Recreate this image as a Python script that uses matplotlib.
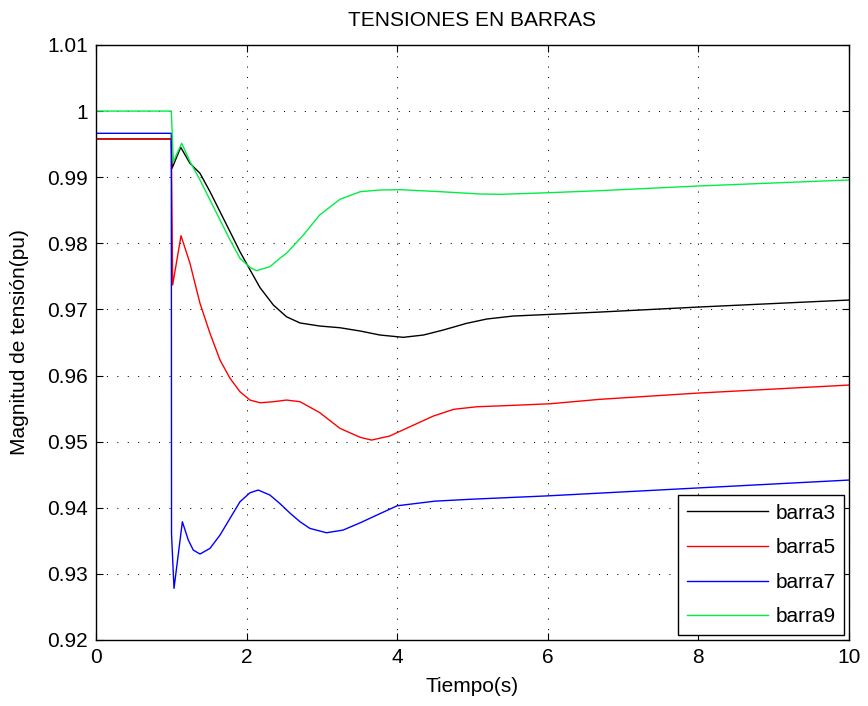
import matplotlib
matplotlib.use("Agg")
import matplotlib.pyplot as plt

plt.rcParams['font.family'] = ['Liberation Sans', 'DejaVu Sans']

# tiempo (s) y tension (pu)
t_b3 = [0, 1.0, 1.01, 1.125, 1.248, 1.381, 1.514, 1.647, 1.78, 1.912, 2.045, 2.178,
        2.355, 2.53, 2.71, 2.97, 3.24, 3.51, 3.77, 4.08, 4.35, 4.61, 4.92, 5.19,
        5.54, 6.03, 6.69, 8, 10]
v_b3 = [0.99578, 0.99578, 0.99135, 0.99452, 0.99210, 0.99059, 0.98781, 0.98478,
        0.98176, 0.97873, 0.97600, 0.97330, 0.97067, 0.96889, 0.96795, 0.96749,
        0.96723, 0.96673, 0.96613, 0.96578, 0.96613, 0.96688, 0.96789, 0.96855,
        0.96900, 0.96925, 0.96960, 0.97036, 0.97142]

t_b5 = [0, 1.0, 1.018, 1.129, 1.248, 1.381, 1.514, 1.647, 1.78, 1.912, 2.045, 2.178,
        2.355, 2.53, 2.71, 2.97, 3.24, 3.51, 3.66, 3.90, 4.17, 4.48, 4.75, 5.06,
        5.54, 6.03, 6.69, 8, 10]
v_b5 = [0.99578, 0.99578, 0.97369, 0.98115, 0.97697, 0.97092, 0.96638, 0.96234,
        0.95958, 0.95755, 0.95629, 0.95588, 0.95604, 0.95629, 0.95604, 0.95440,
        0.95201, 0.95065, 0.95024, 0.95085, 0.95226, 0.95387, 0.95489, 0.95528,
        0.95549, 0.95573, 0.95640, 0.95735, 0.95856]

t_b7 = [0, 1.0, 1.003, 1.036, 1.147, 1.226, 1.292, 1.381, 1.514, 1.647, 1.78, 1.912,
        2.045, 2.155, 2.31, 2.44, 2.58, 2.71, 2.84, 3.06, 3.28, 3.51, 3.75, 4, 4.5,
        5, 6, 8, 10]
v_b7 = [0.99664, 0.99664, 0.93600, 0.92781, 0.93788, 0.93511, 0.93360, 0.93300,
        0.93386, 0.93587, 0.93840, 0.94091, 0.94227, 0.94268, 0.94192, 0.94066,
        0.93915, 0.93788, 0.93688, 0.93622, 0.93662, 0.93773, 0.9390, 0.9403,
        0.9410, 0.9413, 0.9418, 0.9430, 0.94419]

t_b9 = [0, 1.0, 1.027, 1.138, 1.248, 1.381, 1.514, 1.647, 1.78, 1.912, 2.045, 2.13,
        2.31, 2.44, 2.53, 2.75, 2.97, 3.24, 3.51, 3.77, 4.04, 4.57, 5.10, 5.37,
        6.03, 6.69, 8, 10]
v_b9 = [1.0, 1.0, 0.99235, 0.99513, 0.99235, 0.98958, 0.98655, 0.98353, 0.98050,
        0.97773, 0.97636, 0.97586, 0.97646, 0.97773, 0.97849, 0.98120, 0.98428,
        0.98666, 0.98781, 0.98806, 0.98811, 0.98781, 0.98746, 0.98741, 0.98766,
        0.98796, 0.98867, 0.98958]

fig = plt.figure(figsize=(8.68, 7.06), dpi=100)
ax = fig.add_axes([0.1106, 0.0935, 0.8675, 0.8428])

ax.plot(t_b3, v_b3, color='k', lw=1, label='barra3')
ax.plot(t_b5, v_b5, color='#ff0000', lw=1, label='barra5')
ax.plot(t_b7, v_b7, color='#0000ff', lw=1, label='barra7')
ax.plot(t_b9, v_b9, color='#00ee44', lw=1, label='barra9')

ax.set_xlim(0, 10)
ax.set_ylim(0.92, 1.01)
ax.set_xticks([0, 2, 4, 6, 8, 10])
ax.set_yticks([0.92, 0.93, 0.94, 0.95, 0.96, 0.97, 0.98, 0.99, 1.0, 1.01])
ax.set_yticklabels(['0.92', '0.93', '0.94', '0.95', '0.96', '0.97', '0.98', '0.99', '1', '1.01'])
ax.tick_params(direction='in', labelsize=15, top=True, right=True, length=5, pad=6)
ax.grid(True, color='k', linestyle=(0, (1, 9)), linewidth=0.75)
for s in ax.spines.values():
    s.set_linewidth(1)

ax.set_title('TENSIONES EN BARRAS', fontsize=15, pad=14)
ax.set_xlabel('Tiempo(s)', fontsize=15, labelpad=7)
ax.set_ylabel('Magnitud de tensión(pu)', fontsize=15, labelpad=13)

leg = ax.legend(loc='lower right', fontsize=15, fancybox=False, framealpha=1,
                edgecolor='k', handlelength=3.9, handletextpad=0.35,
                borderaxespad=0.25, labelspacing=0.75)
leg.get_frame().set_linewidth(1)

fig.savefig('out.png', dpi=100)
